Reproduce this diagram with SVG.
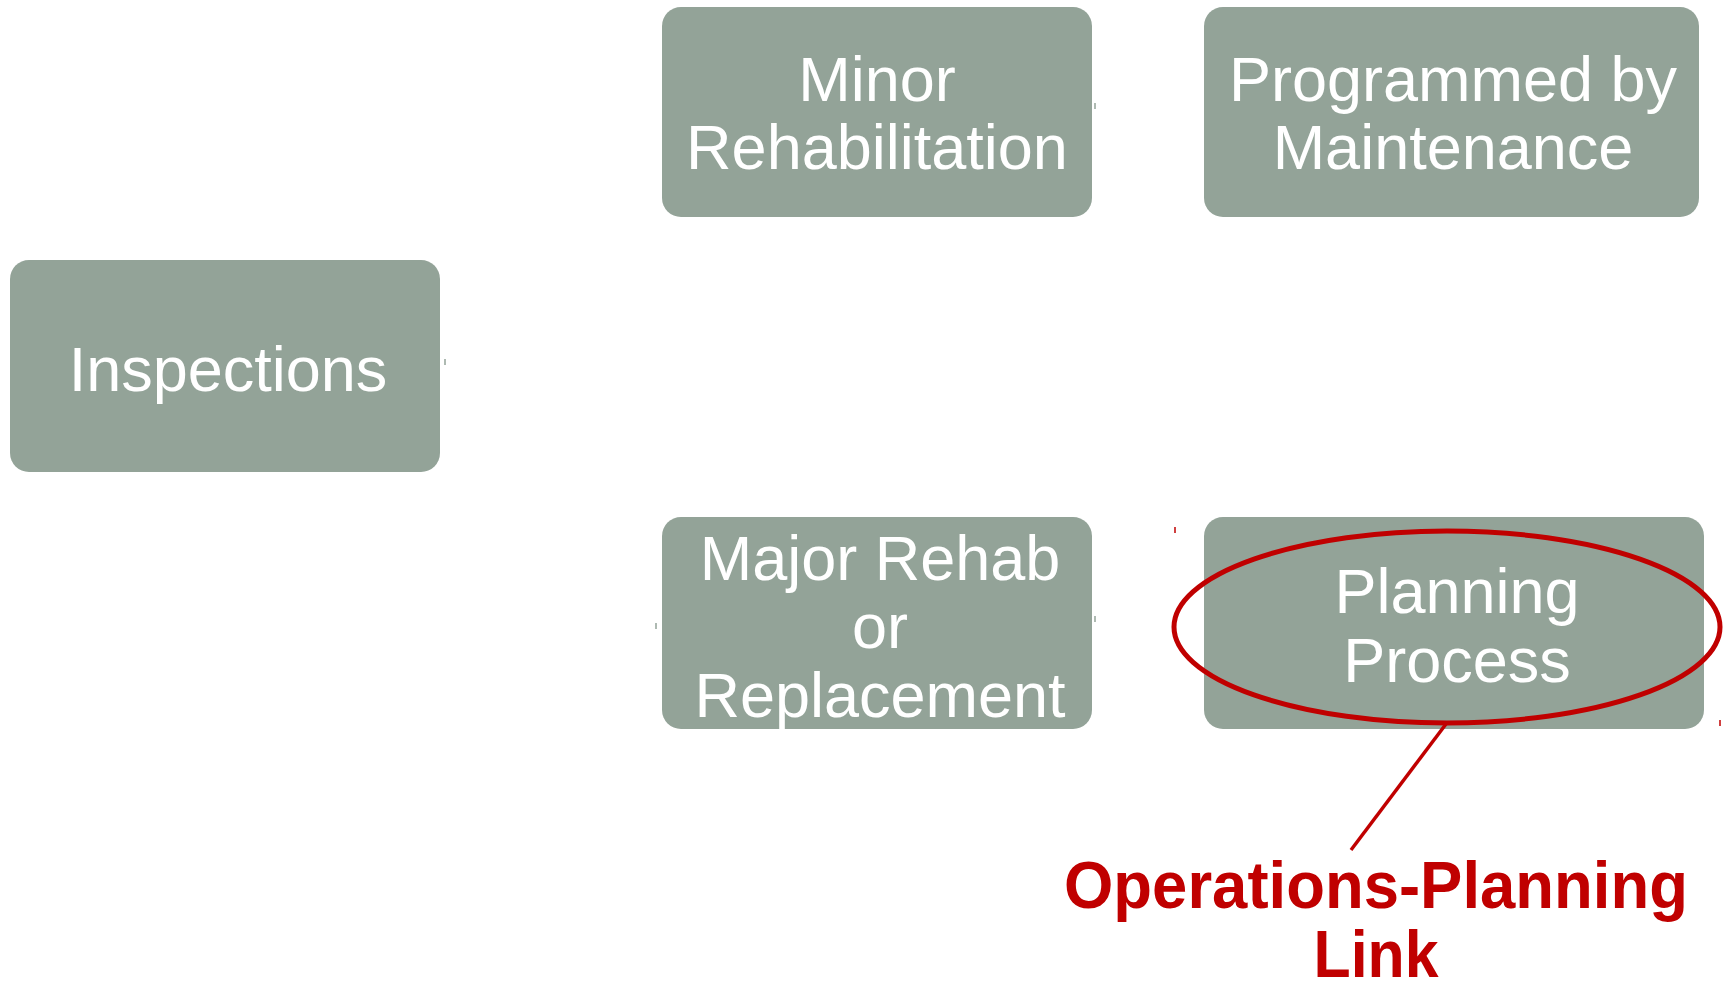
<svg xmlns="http://www.w3.org/2000/svg" width="1733" height="987" viewBox="0 0 1733 987">
<style>
.box{fill:#93a398;}
.lbl{font-family:"Liberation Sans",Arial,sans-serif;font-size:63px;fill:#ffffff;text-anchor:middle;}
.red{font-family:"Liberation Sans",Arial,sans-serif;font-size:66px;font-weight:bold;fill:#c00000;text-anchor:middle;}
.tick{stroke:#93a398;stroke-width:1.5;}
.rtick{stroke:#c00000;stroke-width:1.5;}
</style>
<rect width="1733" height="987" fill="#ffffff"/>
<g id="connectors">
<line class="tick" x1="1095" y1="103" x2="1095" y2="109"/>
<line class="tick" x1="445" y1="359" x2="445" y2="365"/>
<line class="tick" x1="656" y1="623" x2="656" y2="629"/>
<line class="tick" x1="1095" y1="616" x2="1095" y2="622"/>
<line class="rtick" x1="1175" y1="527" x2="1175" y2="533"/>
<line class="rtick" x1="1720" y1="720" x2="1720" y2="726"/>
</g>
<g id="minor-rehabilitation">
<rect class="box" x="662" y="7" width="430" height="210" rx="19"/>
<text class="lbl" x="877" y="101">Minor</text>
<text class="lbl" x="877" y="169">Rehabilitation</text>
</g>
<g id="programmed-by-maintenance">
<rect class="box" x="1204" y="7" width="495" height="210" rx="19"/>
<text class="lbl" x="1453" y="101">Programmed by</text>
<text class="lbl" x="1453" y="169">Maintenance</text>
</g>
<g id="inspections">
<rect class="box" x="10" y="260" width="430" height="212" rx="19"/>
<text class="lbl" x="228" y="391">Inspections</text>
</g>
<g id="major-rehab">
<rect class="box" x="662" y="517" width="430" height="212" rx="19"/>
<text class="lbl" x="880" y="580">Major Rehab</text>
<text class="lbl" x="880" y="648">or</text>
<text class="lbl" x="880" y="717">Replacement</text>
</g>
<g id="planning-process">
<rect class="box" x="1204" y="517" width="500" height="212" rx="19"/>
<text class="lbl" x="1457" y="613">Planning</text>
<text class="lbl" x="1457" y="682">Process</text>
</g>
<g id="operations-planning-link">
<ellipse cx="1447" cy="627" rx="273" ry="96" fill="none" stroke="#c00000" stroke-width="5"/>
<line x1="1446" y1="724" x2="1351" y2="850" stroke="#c00000" stroke-width="3.5"/>
<text class="red" x="1376" y="908" textLength="624" lengthAdjust="spacingAndGlyphs">Operations-Planning</text>
<text class="red" x="1376" y="977" textLength="125" lengthAdjust="spacingAndGlyphs">Link</text>
</g>
</svg>
